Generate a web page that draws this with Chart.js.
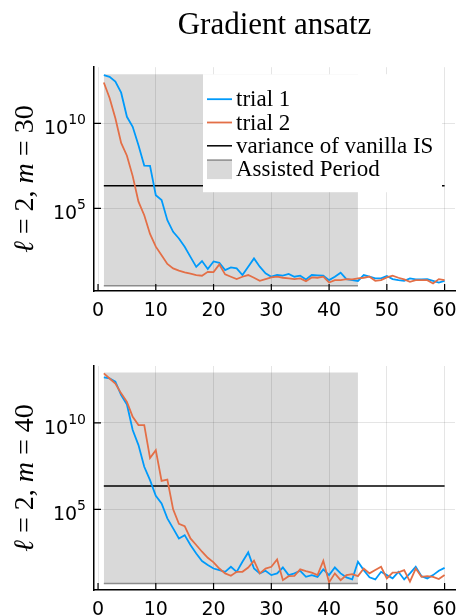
<!DOCTYPE html>
<html>
<head>
<meta charset="utf-8">
<script src="https://cdn.jsdelivr.net/npm/chart.js@4.4.1/dist/chart.umd.min.js"></script>
<style>
  body { margin: 0; background: #fff; }
  canvas { position: absolute; left: 0; }
</style>
</head>
<body>
<canvas id="chart1" width="460" height="320" style="top:0"></canvas>
<canvas id="chart2" width="460" height="296" style="top:320px"></canvas>
<script>
// iteration index on the x axis
const iterations = [1,2,3,4,5,6,7,8,9,10,11,12,13,14,15,16,17,18,19,20,
  21,22,23,24,25,26,27,28,29,30,31,32,33,34,35,36,37,38,39,40,
  41,42,43,44,45,46,47,48,49,50,51,52,53,54,55,56,57,58,59,60];
const xTicks = [0, 10, 20, 30, 40, 50, 60];
const yTicks = [1e5, 1e10];

// values are read off the picture as base-10 exponents (variance = 10^v)
// l = 2, m = 30
const m30Trial1 = [12.84,12.74,12.47,11.81,10.39,9.80,8.72,7.52,7.50,5.78,
  5.49,4.31,3.62,3.23,2.74,2.15,1.56,1.90,1.43,1.88,
  1.80,1.37,1.53,1.47,1.08,1.57,2.06,1.57,1.18,0.98,
  1.08,1.04,1.14,0.98,1.04,0.82,1.08,1.06,1.04,0.78,
  0.98,1.22,0.84,0.78,0.73,1.08,0.98,0.88,0.88,1.02,
  0.84,0.78,0.74,0.88,0.82,0.82,0.84,0.74,0.64,0.73];
const m30Trial2 = [12.41,11.50,10.30,8.85,8.10,6.90,5.40,4.60,3.50,2.75,
  2.25,1.73,1.47,1.34,1.24,1.16,1.08,1.04,1.27,1.25,
  1.70,1.12,0.98,0.84,0.98,1.08,0.92,0.74,0.84,0.94,
  0.98,0.92,0.88,0.84,0.88,0.72,0.94,0.92,0.98,0.64,
  0.78,0.78,0.84,0.82,0.88,0.92,0.98,0.74,0.78,0.94,
  1.04,0.92,0.82,0.68,0.78,0.78,0.78,0.58,0.84,0.78];
const m30Vanilla = 6.33;
const m30Assisted = [0.45, 12.9];   // lower, upper edge of the shaded band
const m30Range = [0.14, 13.31];

// l = 2, m = 40
const m40Trial1 = [12.62,12.56,12.37,11.60,11.06,9.58,8.71,7.46,6.69,5.78,
  5.34,4.48,3.90,3.32,3.51,2.94,2.45,2.01,1.78,1.58,
  1.49,1.39,1.68,1.39,1.97,2.51,1.58,1.30,1.45,1.20,
  1.30,1.64,1.20,1.30,1.45,1.10,1.20,1.10,1.53,1.20,
  1.64,1.30,1.07,0.95,1.97,1.49,1.07,0.95,1.39,1.20,
  1.01,1.39,0.95,1.30,1.68,1.14,1.01,1.20,1.45,1.62];
const m40Trial2 = [12.85,12.56,12.27,11.70,11.21,10.35,9.87,9.87,7.96,8.42,
  6.64,6.72,5.00,4.16,4.03,3.32,2.94,2.55,2.20,1.94,
  1.58,1.30,1.16,1.39,1.39,1.64,2.03,1.30,1.58,1.68,
  2.10,0.91,1.14,1.16,1.53,1.43,1.34,1.20,2.03,0.78,
  1.30,0.91,1.20,1.26,1.14,1.58,1.30,1.49,1.68,1.01,
  1.34,1.36,1.49,0.82,1.58,1.10,1.14,1.10,0.97,1.20];
const m40Vanilla = 6.35;
const m40Assisted = [0.72, 12.9];
const m40Range = [0.34, 13.28];

const assistedSpan = [1, 45];
const vanillaSpan = [1, 60];
const xRange = [-0.7, 61.8];

const blue = '#009AFA', orange = '#E36F47';

function pts(vals) {
  return iterations.map((x, i) => ({ x: x, y: Math.pow(10, vals[i]) }));
}

const decor = {
  id: 'decor',
  afterDraw(chart, args, opts) {
    const ctx = chart.ctx, a = chart.chartArea;
    const xs = chart.scales.x, ys = chart.scales.y;
    ctx.save();
    // inward ticks
    ctx.strokeStyle = '#000';
    ctx.lineWidth = 1.2;
    ctx.beginPath();
    xs.ticks.forEach(t => {
      const px = xs.getPixelForValue(t.value);
      ctx.moveTo(px, a.bottom); ctx.lineTo(px, a.bottom - 7);
    });
    ys.ticks.forEach(t => {
      const py = ys.getPixelForValue(t.value);
      ctx.moveTo(a.left, py); ctx.lineTo(a.left + 7, py);
    });
    ctx.stroke();

    // 10^n tick labels
    ctx.fillStyle = '#000';
    ctx.textBaseline = 'alphabetic';
    ctx.textAlign = 'left';
    ys.ticks.forEach(t => {
      const py = ys.getPixelForValue(t.value);
      const e = String(Math.round(Math.log10(t.value)));
      ctx.font = '14px "DejaVu Sans"';
      const ew = ctx.measureText(e).width;
      ctx.font = '19px "DejaVu Sans"';
      const bw = ctx.measureText('10').width;
      const right = a.left - 8;
      ctx.fillText('10', right - ew - bw, py + 11);
      ctx.font = '14px "DejaVu Sans"';
      ctx.fillText(e, right - ew, py + 1);
    });

    // y axis title, mixed italic / upright
    const parts = [['ℓ', true], [' = 2, ', false], ['m', true], [' = ' + opts.m, false]];
    const font = it => (it ? 'italic ' : '') + '28px "Liberation Serif"';
    let total = 0;
    parts.forEach(p => { ctx.font = font(p[1]); total += ctx.measureText(p[0]).width; });
    ctx.translate(33, (a.top + a.bottom) / 2);
    ctx.rotate(-Math.PI / 2);
    let cx = -total / 2;
    parts.forEach(p => {
      ctx.font = font(p[1]);
      ctx.fillText(p[0], cx, 0);
      cx += ctx.measureText(p[0]).width;
    });
    ctx.setTransform(1, 0, 0, 1, 0, 0);

    // legend
    if (opts.legend) {
      const lx = a.left + 109, ly = a.top + 7;
      ctx.fillStyle = '#fff';
      ctx.fillRect(lx, ly, 239, 118);
      const items = chart.data.datasets.filter(d => d.label);
      ctx.font = '23px "Liberation Serif"';
      ctx.textBaseline = 'middle';
      items.forEach((d, i) => {
        const yc = ly + 25 + i * 23.3;
        if (d.fill) {
          ctx.fillStyle = '#d9d9d9';
          ctx.fillRect(lx + 4, yc - 9, 25, 19);
          ctx.strokeStyle = d.borderColor;
          ctx.lineWidth = 1.5;
          ctx.beginPath(); ctx.moveTo(lx + 4, yc - 9); ctx.lineTo(lx + 29, yc - 9); ctx.stroke();
        } else {
          ctx.strokeStyle = d.borderColor;
          ctx.lineWidth = d.borderWidth;
          ctx.beginPath(); ctx.moveTo(lx + 4, yc); ctx.lineTo(lx + 29, yc); ctx.stroke();
        }
        ctx.fillStyle = '#000';
        ctx.fillText(d.label, lx + 33, yc + 1);
      });
    }
    ctx.restore();
  }
};

function makeChart(id, t1, t2, vanilla, assisted, range, m, withTitle) {
  const datasets = [
    { label: 'trial 1', data: pts(t1), borderColor: blue, borderWidth: 1.8, order: 1 },
    { label: 'trial 2', data: pts(t2), borderColor: orange, borderWidth: 1.8, order: 0 },
    { label: 'variance of vanilla IS', borderColor: '#000', borderWidth: 1.5, order: 2,
      data: vanillaSpan.map(x => ({ x: x, y: Math.pow(10, vanilla) })) },
    { label: 'Assisted Period', borderColor: '#8c8c8c', borderWidth: 1.5, order: 3,
      backgroundColor: 'rgba(0,0,0,0.15)',
      fill: { value: Math.pow(10, assisted[1]) },
      data: assistedSpan.map(x => ({ x: x, y: Math.pow(10, assisted[0]) })) }
  ];
  datasets.forEach(d => { d.pointRadius = 0; d.tension = 0; if (!d.fill) d.fill = false; });

  return new Chart(document.getElementById(id), {
    type: 'line',
    data: { datasets: datasets },
    options: {
      responsive: false,
      animation: false,
      layout: { padding: { left: 0, right: 5, top: withTitle ? 0 : 46, bottom: 0 } },
      plugins: {
        legend: { display: false },
        tooltip: { enabled: false },
        title: {
          display: withTitle,
          text: 'Gradient ansatz',
          fullSize: false,
          color: '#000',
          font: { family: 'Liberation Serif', size: 31, weight: 'normal' },
          padding: { top: 7, bottom: 23 }
        },
        decor: { m: m, legend: withTitle }
      },
      scales: {
        x: {
          type: 'linear',
          min: xRange[0], max: xRange[1],
          afterBuildTicks: s => { s.ticks = xTicks.map(v => ({ value: v })); },
          afterFit: s => {
            s.height = withTitle ? 29 : 26;
            s.paddingLeft = 0; s.paddingRight = 0;
          },
          grid: { color: 'rgba(0,0,0,0.1)', drawTicks: false },
          border: { display: true, color: '#000', width: 1.5 },
          ticks: { color: '#000', padding: 9, maxRotation: 0,
                   font: { family: 'DejaVu Sans', size: 19 } }
        },
        y: {
          type: 'logarithmic',
          min: Math.pow(10, range[0]), max: Math.pow(10, range[1]),
          afterBuildTicks: s => { s.ticks = yTicks.map(v => ({ value: v })); },
          afterFit: s => { s.width = 94; s.paddingTop = 0; s.paddingBottom = 0; },
          grid: { color: 'rgba(0,0,0,0.1)', drawTicks: false },
          border: { display: true, color: '#000', width: 1.5 },
          ticks: { display: false }
        }
      }
    },
    plugins: [decor]
  });
}

makeChart('chart1', m30Trial1, m30Trial2, m30Vanilla, m30Assisted, m30Range, 30, true);
makeChart('chart2', m40Trial1, m40Trial2, m40Vanilla, m40Assisted, m40Range, 40, false);
</script>
</body>
</html>
